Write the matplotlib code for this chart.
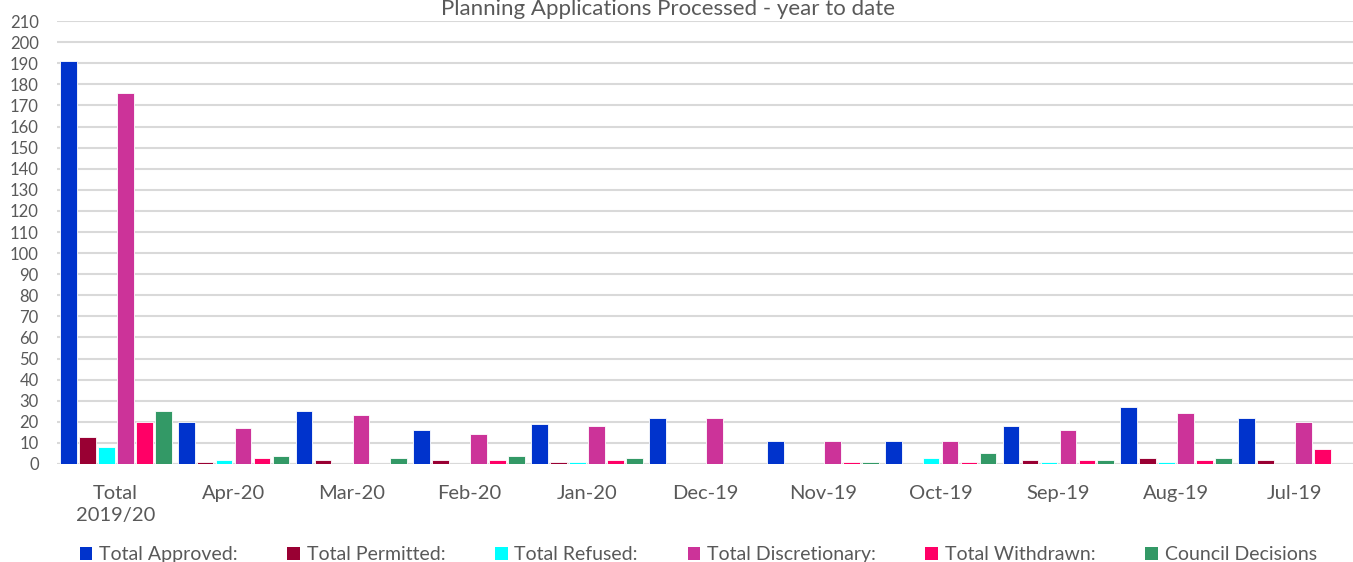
import numpy as np
import matplotlib.pyplot as plt
from matplotlib.patches import Patch

plt.rcParams['font.family'] = ['Lato', 'DejaVu Sans']

# Categories on the x axis
categories = ['Total\n2019/20', 'Apr-20', 'Mar-20', 'Feb-20', 'Jan-20', 'Dec-19',
              'Nov-19', 'Oct-19', 'Sep-19', 'Aug-19', 'Jul-19']

# Series values
approved = [191, 20, 25, 16, 19, 22, 11, 11, 18, 27, 22]
permitted = [13, 1, 2, 2, 1, 0, 0, 0, 2, 3, 2]
refused = [8, 2, 0, 0, 1, 0, 0, 3, 1, 1, 0]
discretionary = [176, 17, 23, 14, 18, 22, 11, 11, 16, 24, 20]
withdrawn = [20, 3, 0, 2, 2, 0, 1, 1, 2, 2, 7]
council = [25, 4, 3, 4, 3, 0, 1, 5, 2, 3, 0]

series_names = ['Total Approved:', 'Total Permitted:', 'Total Refused:',
                'Total Discretionary:', 'Total Withdrawn:', 'Council Decisions']
series_values = [approved, permitted, refused, discretionary, withdrawn, council]
colors = ['#0033CC', '#990033', '#00FFFF', '#CC3399', '#FF0066', '#339966']

text_color = '#595959'

fig = plt.figure(figsize=(13.53, 5.62), dpi=100)
ax = fig.add_axes([0.042, 0.1744, 0.958, 0.788])

x = np.arange(len(categories))
slot = 0.161
bar_w = 0.142
for i, (vals, c) in enumerate(zip(series_values, colors)):
    offset = (i - 2.5) * slot
    ax.bar(x + offset, vals, width=bar_w, color=c, edgecolor='white', linewidth=0.6, zorder=3)

ax.set_xlim(-0.5, len(categories) - 0.5)
ax.set_ylim(0, 210)
ax.set_yticks(np.arange(0, 211, 10))
ax.grid(axis='y', color='#D9D9D9', linewidth=1.5, zorder=0)
for s in ax.spines.values():
    s.set_visible(False)
ax.axhline(0, color='#D9D9D9', linewidth=1.5, zorder=2)

ax.set_xticks(x)
ax.set_xticklabels(categories, fontsize=14.5, color=text_color, linespacing=1.4)
ax.tick_params(axis='x', length=0, pad=15)
ax.tick_params(axis='y', length=0, pad=13, labelsize=12, labelcolor=text_color)

fig.text(0.494, 1 - 9 / 562, 'Planning Applications Processed - year to date',
         ha='center', va='center', fontsize=16, color=text_color)

handles = [Patch(facecolor=c, edgecolor='none') for c in colors]
fig.legend(handles, series_names, loc='center', bbox_to_anchor=(0.516, 0.013),
           ncol=6, frameon=False, fontsize=14, labelcolor=text_color,
           handlelength=0.65, handleheight=0.65, handletextpad=0.35,
           columnspacing=2.55)

fig.savefig('out.png', dpi=100)
